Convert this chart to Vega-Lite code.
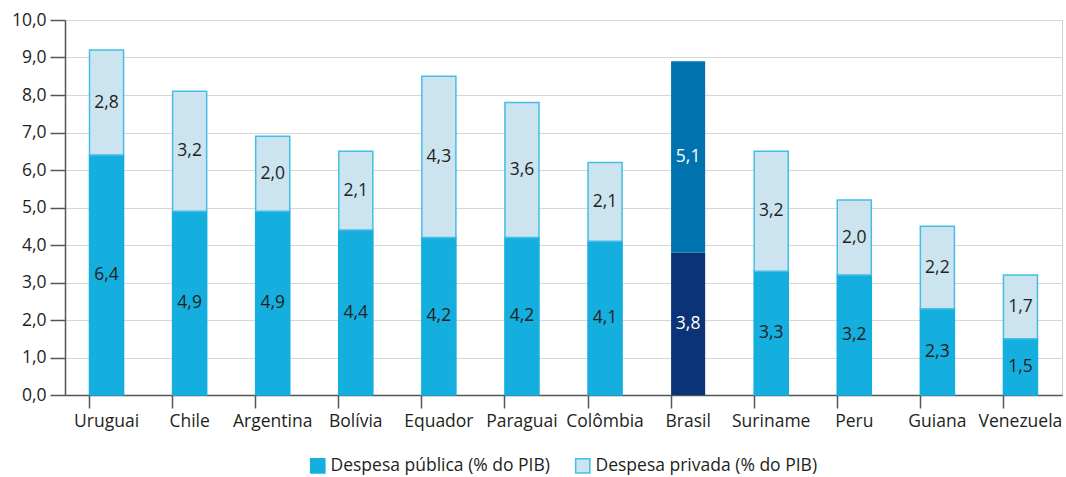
{
  "$schema": "https://vega.github.io/schema/vega-lite/v6.json",
  "autosize": "none",
  "width": 997,
  "height": 375,
  "padding": {"left": 65, "top": 20, "right": 4, "bottom": 82},
  "background": "white",
  "config": {
    "locale": {"number": {"decimal": ",", "thousands": ".", "grouping": [3], "currency": ["R$", ""]}},
    "font": "Open Sans",
    "view": {"stroke": "#cfcfcf", "strokeWidth": 1},
    "axis": {"labelFont": "Open Sans", "labelFontSize": 17.5, "labelColor": "#231f20", "domainColor": "#555555", "tickColor": "#555555", "domainWidth": 1.5, "tickWidth": 1.5, "labelOverlap": false},
    "legend": {"labelFont": "Open Sans", "labelFontSize": 17.5, "labelColor": "#231f20", "labelLimit": 400}
  },
  "data": {
    "values": [
      {"pais": "Uruguai", "tipo": "Despesa pública (% do PIB)", "ordem": 1, "valor": 6.4},
      {"pais": "Uruguai", "tipo": "Despesa privada (% do PIB)", "ordem": 2, "valor": 2.8},
      {"pais": "Chile", "tipo": "Despesa pública (% do PIB)", "ordem": 1, "valor": 4.9},
      {"pais": "Chile", "tipo": "Despesa privada (% do PIB)", "ordem": 2, "valor": 3.2},
      {"pais": "Argentina", "tipo": "Despesa pública (% do PIB)", "ordem": 1, "valor": 4.9},
      {"pais": "Argentina", "tipo": "Despesa privada (% do PIB)", "ordem": 2, "valor": 2.0},
      {"pais": "Bolívia", "tipo": "Despesa pública (% do PIB)", "ordem": 1, "valor": 4.4},
      {"pais": "Bolívia", "tipo": "Despesa privada (% do PIB)", "ordem": 2, "valor": 2.1},
      {"pais": "Equador", "tipo": "Despesa pública (% do PIB)", "ordem": 1, "valor": 4.2},
      {"pais": "Equador", "tipo": "Despesa privada (% do PIB)", "ordem": 2, "valor": 4.3},
      {"pais": "Paraguai", "tipo": "Despesa pública (% do PIB)", "ordem": 1, "valor": 4.2},
      {"pais": "Paraguai", "tipo": "Despesa privada (% do PIB)", "ordem": 2, "valor": 3.6},
      {"pais": "Colômbia", "tipo": "Despesa pública (% do PIB)", "ordem": 1, "valor": 4.1},
      {"pais": "Colômbia", "tipo": "Despesa privada (% do PIB)", "ordem": 2, "valor": 2.1},
      {"pais": "Brasil", "tipo": "Despesa pública (% do PIB)", "ordem": 1, "valor": 3.8},
      {"pais": "Brasil", "tipo": "Despesa privada (% do PIB)", "ordem": 2, "valor": 5.1},
      {"pais": "Suriname", "tipo": "Despesa pública (% do PIB)", "ordem": 1, "valor": 3.3},
      {"pais": "Suriname", "tipo": "Despesa privada (% do PIB)", "ordem": 2, "valor": 3.2},
      {"pais": "Peru", "tipo": "Despesa pública (% do PIB)", "ordem": 1, "valor": 3.2},
      {"pais": "Peru", "tipo": "Despesa privada (% do PIB)", "ordem": 2, "valor": 2.0},
      {"pais": "Guiana", "tipo": "Despesa pública (% do PIB)", "ordem": 1, "valor": 2.3},
      {"pais": "Guiana", "tipo": "Despesa privada (% do PIB)", "ordem": 2, "valor": 2.2},
      {"pais": "Venezuela", "tipo": "Despesa pública (% do PIB)", "ordem": 1, "valor": 1.5},
      {"pais": "Venezuela", "tipo": "Despesa privada (% do PIB)", "ordem": 2, "valor": 1.7}
    ]
  },
  "transform": [
    {"stack": "valor", "groupby": ["pais"], "sort": [{"field": "ordem", "order": "ascending"}], "as": ["v0", "v1"]},
    {"calculate": "(datum.v0 + datum.v1) / 2", "as": "meio"}
  ],
  "encoding": {
    "x": {
      "field": "pais", "type": "nominal", "sort": null, "title": null,
      "scale": {"paddingInner": 0.59, "paddingOuter": 0.295},
      "axis": {"labelAngle": 0, "bandPosition": 0, "tickSize": 13, "labelPadding": 4, "grid": false, "labelBaseline": "top"}
    }
  },
  "layer": [
    {
      "mark": {"type": "bar", "strokeWidth": 1.5},
      "encoding": {
        "y": {
          "field": "v0", "type": "quantitative", "title": null,
          "scale": {"domain": [0, 10], "nice": false},
          "axis": {"values": [0, 1, 2, 3, 4, 5, 6, 7, 8, 9, 10], "tickCount": 11, "format": ".1f", "tickSize": 15, "labelPadding": 4, "gridColor": "#d6d6d6", "gridWidth": 1}
        },
        "y2": {"field": "v1"},
        "color": {
          "condition": [
            {"test": "datum.pais === 'Brasil' && datum.ordem === 1", "value": "#0b3377"},
            {"test": "datum.pais === 'Brasil' && datum.ordem === 2", "value": "#0072ae"}
          ],
          "field": "tipo", "type": "nominal", "title": null,
          "scale": {"domain": ["Despesa pública (% do PIB)", "Despesa privada (% do PIB)"], "range": ["#14aedf", "#cce4f0"]},
          "legend": {"orient": "none", "legendX": 244, "legendY": 437, "direction": "horizontal", "symbolType": "square", "symbolSize": 200, "symbolStrokeWidth": 1.5, "columnPadding": 22, "labelOffset": 4}
        },
        "stroke": {
          "condition": {"test": "datum.pais === 'Brasil'", "value": "transparent"},
          "field": "tipo", "type": "nominal", "title": null,
          "scale": {"domain": ["Despesa pública (% do PIB)", "Despesa privada (% do PIB)"], "range": ["#14aedf", "#45bde6"]}
        }
      }
    },
    {
      "mark": {"type": "text", "fontSize": 17.5, "font": "Open Sans", "baseline": "middle"},
      "encoding": {
        "y": {
          "field": "meio", "type": "quantitative",
          "scale": {"domain": [0, 10], "nice": false},
          "axis": {"values": [0, 1, 2, 3, 4, 5, 6, 7, 8, 9, 10], "tickCount": 11, "format": ".1f", "tickSize": 15, "labelPadding": 4, "gridColor": "#d6d6d6", "gridWidth": 1}
        },
        "text": {"field": "valor", "type": "quantitative", "format": ".1f"},
        "color": {"condition": {"test": "datum.pais === 'Brasil'", "value": "#ffffff"}, "value": "#231f20"}
      }
    }
  ]
}
